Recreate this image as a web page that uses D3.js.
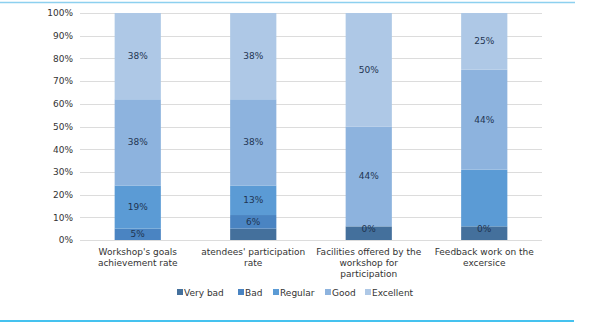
<!DOCTYPE html>
<html>
<head>
<meta charset="utf-8">
<script src="https://cdn.jsdelivr.net/npm/d3@7"></script>
<style>
html,body{margin:0;padding:0;background:#fff;}
svg{display:block;}
text{font-family:"DejaVu Sans",sans-serif;}
</style>
</head>
<body>
<svg id="c" width="589" height="323"></svg>
<script>
const categories = [
  ["Workshop's goals", "achievement rate"],
  ["atendees' participation", "rate"],
  ["Facilities offered by the", "workshop for", "participation"],
  ["Feedback work on the", "excersice"]
];
const seriesNames = ["Very bad", "Bad", "Regular", "Good", "Excellent"];
const veryBad   = [0, 5, 6, 6];
const bad       = [5, 6, 0, 0];
const regular   = [19, 13, 0, 25];
const good      = [38, 38, 44, 44];
const excellent = [38, 38, 50, 25];
// labels shown on the chart (null = not shown)
const veryBadLabels   = [null, null, null, null];
const badLabels       = ["5%", "6%", "0%", "0%"];
const regularLabels   = ["19%", "13%", null, "25%"];
const goodLabels      = ["38%", "38%", "44%", "44%"];
const excellentLabels = ["38%", "38%", "50%", "25%"];
const yTicks = [0, 10, 20, 30, 40, 50, 60, 70, 80, 90, 100];
const colors = ["#44709c", "#4a84c2", "#5b9bd5", "#8db3de", "#aec8e6"];

const values = [veryBad, bad, regular, good, excellent];
const labels = [veryBadLabels, badLabels, regularLabels, goodLabels, excellentLabels];

const svg = d3.select("#c");
const m = {left: 80, right: 542, top: 13, bottom: 240};

const x = d3.scaleBand().domain(d3.range(categories.length)).range([m.left, m.right]).paddingInner(0.6).paddingOuter(0.3);
const y = d3.scaleLinear().domain([0, 100]).range([m.bottom, m.top]);

// frame lines
svg.append("line").attr("x1", 0).attr("x2", 575).attr("y1", 2.5).attr("y2", 2.5)
  .attr("stroke", "#8dd0ef").attr("stroke-width", 1.5);
svg.append("line").attr("x1", 0).attr("x2", 574).attr("y1", 321).attr("y2", 321)
  .attr("stroke", "#45c2ef").attr("stroke-width", 2);

// gridlines
svg.append("g").selectAll("line").data(yTicks).join("line")
  .attr("x1", m.left).attr("x2", m.right)
  .attr("y1", d => Math.round(y(d)) + 0.5).attr("y2", d => Math.round(y(d)) + 0.5)
  .attr("stroke", "#dcdcdc").attr("stroke-width", 1);

// y axis labels
const yAxis = d3.axisLeft(y).tickValues(yTicks).tickFormat(d => d + "%").tickSize(0).tickPadding(0);
const ga = svg.append("g").attr("transform", `translate(${73},0)`).call(yAxis);
ga.select(".domain").remove();
ga.selectAll("text").attr("font-size", 9).attr("fill", "#333").attr("font-family", "DejaVu Sans, sans-serif");

// stacked data
const rows = categories.map((c, i) => {
  const o = {i};
  seriesNames.forEach((s, k) => o[s] = values[k][i]);
  return o;
});
const stack = d3.stack().keys(seriesNames)(rows);

const gBars = svg.append("g");
stack.forEach((layer, k) => {
  gBars.append("g").attr("fill", colors[k]).selectAll("rect").data(layer).join("rect")
    .attr("x", (d, i) => x(i))
    .attr("width", x.bandwidth())
    .attr("y", d => y(d[1]))
    .attr("height", d => y(d[0]) - y(d[1]));
});
// labels
stack.forEach((layer, k) => {
  gBars.append("g").selectAll("text").data(layer).join("text")
    .filter((d, i) => labels[k][i] !== null)
    .attr("x", (d, i) => x(i) + x.bandwidth() / 2)
    .attr("y", d => (y(d[0]) + y(d[1])) / 2 + (d[1] - d[0] === 0 ? 3 : 0))
    .attr("text-anchor", "middle").attr("dominant-baseline", "central")
    .attr("font-size", 9).attr("fill", "#1f3552")
    .text((d, i) => labels[k][i]);
});

// x labels
const gx = svg.append("g");
categories.forEach((lines, i) => {
  const t = gx.append("text").attr("text-anchor", "middle").attr("font-size", 9).attr("fill", "#333")
    .attr("x", x(i) + x.bandwidth() / 2).attr("y", 255);
  lines.forEach((ln, j) => t.append("tspan").attr("x", x(i) + x.bandwidth() / 2).attr("dy", j === 0 ? 0 : 11).text(ln));
});

// legend
const legendX = [177, 238, 273, 325, 365];
const gl = svg.append("g");
seriesNames.forEach((s, k) => {
  gl.append("rect").attr("x", legendX[k]).attr("y", 289).attr("width", 6).attr("height", 6).attr("fill", colors[k]);
  gl.append("text").attr("x", legendX[k] + 7).attr("y", 295.5).attr("font-size", 9).attr("fill", "#333").text(s);
});
</script>
</body>
</html>
